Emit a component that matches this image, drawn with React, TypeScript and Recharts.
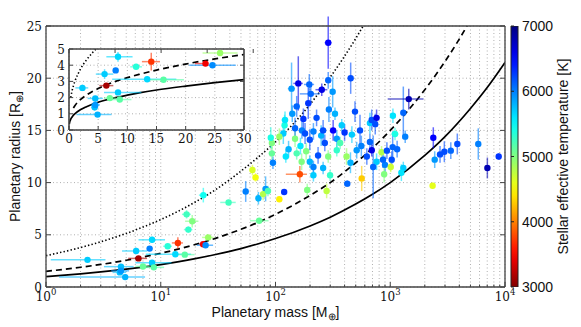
import React from "react";
import {
  ComposedChart,
  BarChart,
  Bar,
  Line,
  Scatter,
  ErrorBar,
  XAxis,
  YAxis,
  CartesianGrid,
} from "recharts";

const SERIF = "'DejaVu Serif', serif";
const SANS = "'Liberation Sans', Arial, sans-serif";
const FRAME = "#444";

// model curves (mass in M_earth, radius in R_earth)
const curveMass = [1, 2, 3, 5, 7, 10, 20, 30, 50, 70, 100, 200, 300, 500, 700, 1000, 2000, 3000, 5000, 7000, 10000];
const solidR = [1.0, 1.26, 1.44, 1.71, 1.91, 2.15, 2.71, 3.11, 3.68, 4.12, 4.64, 5.85, 6.69, 7.94, 8.88, 10.0, 12.6, 14.4, 17.1, 19.1, 21.5];
const dashedR = [1.5, 1.89, 2.16, 2.56, 2.87, 3.23, 4.07, 4.66, 5.53, 6.17, 6.96, 8.77, 10.0, 11.9, 13.3, 15.0, 18.9, 21.6, 25.6, 28.7, 32.3];
const dottedR = [3.0, 3.78, 4.33, 5.13, 5.74, 6.46, 8.14, 9.32, 11.1, 12.4, 13.9, 17.5, 20.1, 23.8, 26.6, 30.0, 37.8, 43.3, 51.3, 57.4, 64.6];

// same curves in the zoomed inset
const insetMass = [0.05, 0.1, 0.2, 0.3, 0.5, 0.75, 1, 1.5, 2, 3, 4, 5, 6, 8, 10, 12, 15, 20, 25, 30];
const insetSolid = [0.37, 0.46, 0.58, 0.67, 0.79, 0.91, 1.0, 1.14, 1.26, 1.44, 1.59, 1.71, 1.82, 2.0, 2.15, 2.29, 2.47, 2.71, 2.92, 3.11];
const insetDashed = [null, null, null, null, null, 1.36, 1.5, 1.72, 1.89, 2.16, 2.38, 2.56, 2.73, 3.0, 3.23, 3.43, 3.7, 4.07, 4.39, 4.66];
const insetDotted = [null, null, null, 2.0, 2.38, 2.72, 3.0, 3.43, 3.78, 4.33, 4.76, 5.13, 5.45, 6.0, null, null, null, null, null, null];

// planets: [mass, radius, mass err low, mass err high, radius err, Teff]
const smallPlanets = [
  [2.3, 2.6, 1.2, 1.0, 0.2, 5700],
  [4.9, 0.95, 3.6, 2.4, 0.1, 5800],
  [4.5, 1.95, 1.3, 1.3, 0.15, 5750],
  [4.5, 1.55, 0.8, 0.8, 0.25, 5900],
  [4.4, 1.4, 0.6, 0.6, 0.2, 5750],
  [6.1, 3.45, 1.5, 1.5, 0.3, 5700],
  [6.4, 2.74, 1.2, 1.2, 0.1, 3150],
  [8.0, 3.68, 0.4, 0.4, 0.1, 6000],
  [8.4, 4.52, 2.0, 2.5, 0.3, 5650],
  [7.0, 1.97, 1.0, 1.0, 0.1, 5100],
  [8.4, 2.32, 2.4, 4.0, 0.15, 5700],
  [8.7, 1.88, 1.5, 2.0, 0.15, 5150],
  [11.5, 3.9, 1.0, 1.0, 0.1, 5350],
  [13.4, 3.13, 6.0, 5.0, 0.15, 5650],
  [14.1, 4.22, 1.6, 1.5, 0.55, 3700],
  [16.2, 3.1, 2.5, 3.5, 0.15, 5150],
  [23.4, 4.1, 1.8, 0.5, 0.1, 3450],
  [24.6, 4.0, 4.0, 4.0, 0.1, 5950],
  [25.9, 4.75, 3.0, 3.0, 0.1, 4900],
];

const neptunes = [
  [16.8, 6.96, 1.5, 1.5, 0.4, 5250],
  [18.8, 6.3, 2.5, 2.5, 0.6, 5000],
  [17.4, 5.5, 1.5, 1.5, 0.3, 5300],
  [23.5, 8.8, 2.0, 2.0, 0.7, 5450],
  [39, 8.1, 6, 6, 0.25, 5250],
  [72, 6.35, 12, 15, 0.2, 5100],
  [55, 9.15, 3, 3, 1.0, 6000],
  [71, 8.5, 3, 3, 0.6, 5800],
  [82, 9.4, 4, 4, 1.2, 5900],
  [78, 8.9, 4, 4, 0.6, 4800],
  [86, 9.2, 4, 4, 0.5, 5200],
  [63, 11.2, 3, 3, 0.5, 4650],
  [67, 10.5, 3, 3, 0.4, 4550],
  [108, 8.4, 4, 4, 0.2, 4450],
  [119, 9.1, 3, 3, 0.2, 6300],
  [95, 11.9, 4, 4, 0.6, 6000],
  [93, 12.8, 4, 4, 0.6, 5100],
  [91, 14.3, 4, 4, 1.0, 5400],
  [93, 13.8, 4, 4, 0.6, 5000],
];

const saturns = [
  [163, 10.8, 40, 25, 0.8, 3800],
  [123, 12.5, 5, 5, 0.6, 5600],
  [564, 10.4, 20, 20, 1.2, 4300],
  [422, 9.9, 15, 15, 0.3, 6100],
  [279, 9.2, 15, 15, 0.7, 4750],
  [710, 11.5, 20, 20, 3.0, 6100],
  [214, 10.7, 8, 8, 0.6, 5700],
  [189, 9.3, 8, 8, 0.6, 5000],
  [299, 10.7, 10, 10, 0.5, 5300],
  [148, 14.2, 6, 6, 0.8, 5000],
  [199, 14.1, 8, 8, 1.0, 6200],
  [269, 13.8, 10, 10, 0.8, 6200],
  [342, 14.2, 10, 10, 0.8, 5900],
  [665, 13.9, 20, 20, 0.8, 6100],
  [690, 13.1, 20, 20, 0.6, 6600],
  [840, 12.9, 25, 25, 0.6, 4800],
  [153, 12.8, 6, 6, 0.6, 5200],
  [169, 12.0, 6, 6, 0.8, 5000],
  [199, 12.0, 8, 8, 0.6, 5800],
  [214, 11.5, 8, 8, 0.6, 6000],
  [260, 11.4, 10, 10, 0.6, 5800],
  [235, 12.6, 8, 8, 0.8, 6200],
  [288, 12.5, 10, 10, 0.6, 5000],
  [342, 13.1, 10, 10, 0.6, 5300],
  [366, 13.8, 10, 10, 0.6, 5200],
  [416, 12.5, 15, 15, 0.8, 4900],
  [510, 13.1, 15, 15, 0.8, 5900],
  [625, 12.5, 20, 20, 0.8, 6200],
  [760, 12.0, 25, 25, 0.8, 5700],
  [108, 14.4, 5, 5, 0.8, 4900],
  [130, 13.2, 5, 5, 0.8, 5800],
  [165, 13.5, 6, 6, 0.8, 5600],
  [185, 13.0, 8, 8, 0.8, 5000],
  [560, 13.5, 20, 20, 1.0, 6000],
  [450, 11.9, 15, 15, 1.0, 5800],
  [865, 12.2, 25, 25, 0.8, 6100],
  [900, 11.7, 25, 25, 0.8, 6000],
  [885, 10.8, 25, 25, 0.8, 5000],
];

const jupiters = [
  [288, 23.4, 20, 20, 2.5, 6500],
  [452, 20.0, 15, 15, 1.5, 6200],
  [158, 19.5, 15, 15, 2.6, 6600],
  [138, 19.0, 10, 10, 2.5, 5900],
  [197, 19.4, 20, 20, 1.0, 6100],
  [253, 18.9, 30, 30, 0.6, 6600],
  [288, 19.8, 15, 15, 0.8, 6100],
  [315, 18.7, 15, 15, 1.5, 5900],
  [203, 18.5, 40, 40, 1.0, 6100],
  [193, 17.6, 10, 10, 1.5, 6300],
  [153, 17.3, 10, 10, 1.0, 6100],
  [292, 17.0, 10, 10, 1.2, 6000],
  [493, 16.8, 20, 20, 1.0, 6200],
  [140, 16.6, 8, 8, 0.8, 5900],
  [121, 16.0, 8, 8, 0.8, 5600],
  [175, 16.1, 8, 8, 1.0, 6300],
  [689, 16.0, 20, 20, 1.0, 6200],
  [760, 16.2, 20, 20, 0.8, 6600],
  [228, 16.2, 10, 10, 0.8, 6200],
  [330, 16.6, 10, 10, 0.6, 5800],
  [378, 15.5, 15, 15, 0.6, 5700],
  [318, 15.0, 10, 10, 1.0, 6500],
  [260, 15.0, 10, 10, 1.0, 6200],
  [214, 14.9, 10, 10, 0.8, 6000],
  [181, 14.7, 8, 8, 1.0, 6200],
  [148, 15.2, 6, 6, 1.0, 6100],
  [117, 14.7, 5, 5, 1.0, 5700],
  [463, 14.6, 15, 15, 0.8, 5700],
  [545, 15.0, 20, 20, 1.5, 6200],
  [665, 15.7, 20, 20, 1.0, 5700],
  [740, 15.6, 25, 25, 1.0, 6200],
  [400, 14.8, 15, 15, 0.8, 6300],
  [120, 15.5, 5, 5, 1.0, 5400],
  [170, 15.0, 6, 6, 0.8, 6000],
  [250, 14.5, 8, 8, 1.0, 5800],
];

const heavyPlanets = [
  [1450, 18.0, 500, 500, 1.0, 6800],
  [1300, 16.7, 50, 50, 2.5, 6100],
  [1055, 16.4, 30, 30, 0.7, 5600],
  [1100, 14.65, 80, 80, 0.6, 5400],
  [1350, 14.4, 40, 40, 0.6, 6000],
  [1050, 13.4, 30, 30, 1.5, 6100],
  [1148, 13.2, 30, 30, 0.8, 6100],
  [935, 13.06, 30, 30, 0.8, 6200],
  [1030, 12.2, 30, 30, 0.8, 6200],
  [1010, 11.5, 30, 30, 0.5, 4700],
  [1300, 11.4, 40, 40, 0.6, 5700],
  [1250, 10.95, 40, 40, 0.8, 5600],
  [2372, 14.3, 80, 80, 1.0, 6500],
  [2440, 12.2, 80, 80, 0.8, 5900],
  [2715, 12.7, 80, 80, 0.8, 6200],
  [2960, 12.96, 80, 80, 1.0, 6200],
  [3370, 13.06, 100, 100, 0.8, 6100],
  [3840, 13.7, 120, 120, 1.0, 6200],
  [5850, 13.7, 150, 150, 1.5, 6000],
  [7020, 11.4, 200, 200, 1.0, 6800],
  [8810, 12.5, 200, 200, 0.3, 6300],
  [2340, 9.7, 50, 50, 0.3, 4600],
];

const massTicks = [1, 2, 3, 4, 5, 6, 7, 8, 9, 10, 20, 30, 40, 50, 60, 70, 80, 90, 100, 200, 300, 400, 500, 600, 700, 800, 900, 1000, 2000, 3000, 4000, 5000, 6000, 7000, 8000, 9000, 10000];
const radiusTicks = [0, 5, 10, 15, 20, 25];
const insetMassTicks = [0, 5, 10, 15, 20, 25, 30];
const insetRadiusTicks = [0, 1, 2, 3, 4, 5];
const teffTicks = [3000, 4000, 5000, 6000, 7000];

// jet colormap, 7000 K -> dark blue, 3000 K -> dark red
function jet(t: number) {
  const c = (v: number) => Math.round(255 * Math.max(0, Math.min(1, v)));
  const r = c(Math.min(4 * t - 1.5, -4 * t + 4.5));
  const g = c(Math.min(4 * t - 0.5, -4 * t + 3.5));
  const b = c(Math.min(4 * t + 0.5, -4 * t + 2.5));
  return `rgb(${r},${g},${b})`;
}
const teffColor = (T: number) => jet((7000 - T) / 4000);

const curveRows = curveMass.map((m, i) => ({ m, solid: solidR[i], dashed: dashedR[i], dotted: dottedR[i] }));
const insetRows = insetMass.map((m, i) => ({ m, solid: insetSolid[i], dashed: insetDashed[i], dotted: insetDotted[i] }));

const allPlanets = [...smallPlanets, ...neptunes, ...saturns, ...jupiters, ...heavyPlanets].map(
  ([m, r, lo, hi, dr, teff]) => ({ m, r, mErr: [lo, hi], rErr: dr, teff })
);

function groupByTeff(list: typeof allPlanets) {
  const groups: { teff: number; pts: typeof allPlanets }[] = [];
  list.forEach((p) => {
    let g = groups.find((x) => x.teff === p.teff);
    if (!g) {
      g = { teff: p.teff, pts: [] };
      groups.push(g);
    }
    g.pts.push(p);
  });
  return groups;
}

const mainGroups = groupByTeff(allPlanets);
const insetGroups = groupByTeff(allPlanets.filter((p) => p.m <= 30 && p.r <= 5));

const dot = (color: string) => (p: any) => <circle cx={p.cx} cy={p.cy} r={3.2} fill={color} />;

const MassTick = (props: any) => {
  const { x, y, payload } = props;
  const e = Math.log10(payload.value);
  const major = Math.abs(e - Math.round(e)) < 1e-9;
  return (
    <g>
      <line x1={x} x2={x} y1={y} y2={y - (major ? 5 : 2.5)} stroke={FRAME} />
      {major && (
        <text x={x} y={y + 14} textAnchor="middle" fontFamily={SERIF} fontSize={12} fill="#111">
          10
          <tspan dy={-6} fontSize={8.5}>
            {Math.round(e)}
          </tspan>
        </text>
      )}
    </g>
  );
};

const TopMassTick = (props: any) => {
  const { x, y, payload } = props;
  const e = Math.log10(payload.value);
  const major = Math.abs(e - Math.round(e)) < 1e-9;
  return <line x1={x} x2={x} y1={y} y2={y + (major ? 5 : 2.5)} stroke={FRAME} />;
};

const LeftTick = (props: any) => {
  const { x, y, payload, len = 5 } = props;
  return (
    <g>
      <line x1={x} x2={x + len} y1={y} y2={y} stroke={FRAME} />
      <text x={x - 4} y={y + 4.5} textAnchor="end" fontFamily={SERIF} fontSize={12} fill="#111">
        {payload.value}
      </text>
    </g>
  );
};

const RightTick = (props: any) => {
  const { x, y, len = 5 } = props;
  return <line x1={x} x2={x - len} y1={y} y2={y} stroke={FRAME} />;
};

const BottomTick = (props: any) => {
  const { x, y, payload } = props;
  return (
    <g>
      <line x1={x} x2={x} y1={y} y2={y - 4} stroke={FRAME} />
      <text x={x} y={y + 13} textAnchor="middle" fontFamily={SERIF} fontSize={12} fill="#111">
        {payload.value}
      </text>
    </g>
  );
};

const TopTick = (props: any) => {
  const { x, y } = props;
  return <line x1={x} x2={x} y1={y} y2={y + 4} stroke={FRAME} />;
};

const ColorTick = (props: any) => {
  const { x, y, payload } = props;
  return (
    <g>
      <line x1={x - 7} x2={x - 4} y1={y} y2={y} stroke="#222" />
      <text x={x + 4} y={y + 5} fontFamily={SANS} fontSize={14} fill="#111">
        {payload.value}
      </text>
    </g>
  );
};

const xTitle = (props: any) => {
  const vb = props.viewBox;
  return (
    <text x={vb.x + vb.width / 2} y={vb.y + 30} textAnchor="middle" fontFamily={SANS} fontSize={14} fill="#111">
      Planetary mass [M
      <tspan dy={3} fontSize={10}>⊕</tspan>
      <tspan dy={-3}>]</tspan>
    </text>
  );
};

const yTitle = (props: any) => {
  const vb = props.viewBox;
  const cx = 20;
  const cy = vb.y + vb.height / 2;
  return (
    <text x={cx} y={cy} transform={`rotate(-90, ${cx}, ${cy})`} textAnchor="middle" fontFamily={SANS} fontSize={14} fill="#111">
      Planetary radius [R
      <tspan dy={3} fontSize={10}>⊕</tspan>
      <tspan dy={-3}>]</tspan>
    </text>
  );
};

const cbTitle = (props: any) => {
  const vb = props.viewBox;
  const cx = 568;
  const cy = vb.y + vb.height / 2;
  return (
    <text x={cx} y={cy} transform={`rotate(-90, ${cx}, ${cy})`} textAnchor="middle" fontFamily={SANS} fontSize={14} fill="#111">
      Stellar effective temperature [K]
    </text>
  );
};

const gradStops = Array.from({ length: 21 }, (_, i) => i / 20);

function renderPoints(groups: ReturnType<typeof groupByTeff>, prefix: string) {
  return groups.map((g) => {
    const color = teffColor(g.teff);
    return (
      <Scatter key={`${prefix}-${g.teff}`} data={g.pts} fill={color} shape={dot(color)} isAnimationActive={false}>
        <ErrorBar dataKey="mErr" direction="x" width={0} stroke={color} strokeWidth={1.5} strokeOpacity={0.6} />
        <ErrorBar dataKey="rErr" direction="y" width={0} stroke={color} strokeWidth={1.5} strokeOpacity={0.6} />
      </Scatter>
    );
  });
}

export default function App() {
  return (
    <div style={{ position: "absolute", left: 0, top: 0, width: 581, height: 327, background: "#fff", fontFamily: SANS }}>
      <ComposedChart width={581} height={327} data={curveRows} margin={{ top: 25, right: 75, bottom: 0, left: 0 }}>
        <CartesianGrid stroke="#b0b0b0" strokeDasharray="1 2.5" />
        <XAxis
          dataKey="m"
          type="number"
          scale="log"
          domain={[1, 10000]}
          allowDataOverflow
          ticks={massTicks}
          interval={0}
          tick={<MassTick />}
          tickLine={false}
          tickSize={0}
          tickMargin={0}
          height={40}
          axisLine={{ stroke: FRAME, strokeWidth: 1.3 }}
          label={{ content: xTitle }}
        />
        <XAxis
          xAxisId="top"
          orientation="top"
          type="number"
          scale="log"
          domain={[1, 10000]}
          allowDataOverflow
          ticks={massTicks}
          interval={0}
          tick={<TopMassTick />}
          tickLine={false}
          tickSize={0}
          tickMargin={0}
          height={1}
          axisLine={{ stroke: FRAME, strokeWidth: 1.3 }}
        />
        <YAxis
          dataKey="r"
          type="number"
          domain={[0, 25]}
          allowDataOverflow
          ticks={radiusTicks}
          interval={0}
          tick={<LeftTick />}
          tickLine={false}
          tickSize={0}
          tickMargin={0}
          width={46}
          axisLine={{ stroke: FRAME, strokeWidth: 1.3 }}
          label={{ content: yTitle }}
        />
        <YAxis
          yAxisId="right"
          orientation="right"
          type="number"
          domain={[0, 25]}
          allowDataOverflow
          ticks={radiusTicks}
          interval={0}
          tick={<RightTick />}
          tickLine={false}
          tickSize={0}
          tickMargin={0}
          width={1}
          axisLine={{ stroke: FRAME, strokeWidth: 1.3 }}
        />
        <Line dataKey="solid" type="monotone" stroke="#000" strokeWidth={1.7} dot={false} isAnimationActive={false} />
        <Line dataKey="dashed" type="monotone" stroke="#000" strokeWidth={1.7} strokeDasharray="6 4" dot={false} isAnimationActive={false} />
        <Line dataKey="dotted" type="monotone" stroke="#000" strokeWidth={1.6} strokeDasharray="1.4 2.2" dot={false} isAnimationActive={false} />
        {renderPoints(mainGroups, "main")}
      </ComposedChart>

      <div style={{ position: "absolute", left: 40, top: 40, width: 222, height: 110 }}>
        <ComposedChart width={222} height={110} data={insetRows} margin={{ top: 8, right: 17, bottom: 0, left: 0 }}>
          <CartesianGrid stroke="#b0b0b0" strokeDasharray="1 2.5" fill="#fff" fillOpacity={1} />
          <XAxis
            dataKey="m"
            type="number"
            domain={[0, 30]}
            allowDataOverflow
            ticks={insetMassTicks}
            interval={0}
            tick={<BottomTick />}
            tickLine={false}
            tickSize={0}
            tickMargin={0}
            height={20}
            axisLine={{ stroke: FRAME, strokeWidth: 1.6 }}
          />
          <XAxis
            xAxisId="top"
            orientation="top"
            type="number"
            domain={[0, 30]}
            allowDataOverflow
            ticks={insetMassTicks}
            interval={0}
            tick={<TopTick />}
            tickLine={false}
            tickSize={0}
            tickMargin={0}
            height={1}
            axisLine={{ stroke: FRAME, strokeWidth: 1.6 }}
          />
          <YAxis
            dataKey="r"
            type="number"
            domain={[0, 5]}
            allowDataOverflow
            ticks={insetRadiusTicks}
            interval={0}
            tick={<LeftTick len={4} />}
            tickLine={false}
            tickSize={0}
            tickMargin={0}
            width={29}
            axisLine={{ stroke: FRAME, strokeWidth: 1.6 }}
          />
          <YAxis
            yAxisId="right"
            orientation="right"
            type="number"
            domain={[0, 5]}
            allowDataOverflow
            ticks={insetRadiusTicks}
            interval={0}
            tick={<RightTick len={4} />}
            tickLine={false}
            tickSize={0}
            tickMargin={0}
            width={1}
            axisLine={{ stroke: FRAME, strokeWidth: 1.6 }}
          />
          <Line dataKey="solid" type="monotone" stroke="#000" strokeWidth={1.7} dot={false} isAnimationActive={false} />
          <Line dataKey="dashed" type="monotone" stroke="#000" strokeWidth={1.7} strokeDasharray="6 4" dot={false} isAnimationActive={false} />
          <Line dataKey="dotted" type="monotone" stroke="#000" strokeWidth={1.6} strokeDasharray="1.4 2.2" dot={false} isAnimationActive={false} />
          {renderPoints(insetGroups, "inset")}
        </ComposedChart>
      </div>

      <div style={{ position: "absolute", left: 0, top: 0, width: 581, height: 327 }}>
        <BarChart width={581} height={327} data={[{ name: "teff", top: 7000 }]} margin={{ top: 26, right: 0, bottom: 40, left: 511 }} barCategoryGap={0}>
          <defs>
            <linearGradient id="jetGrad" x1="0" y1="0" x2="0" y2="1">
              {gradStops.map((s) => (
                <stop key={s} offset={s} stopColor={jet(s)} />
              ))}
            </linearGradient>
          </defs>
          <XAxis dataKey="name" hide />
          <YAxis
            orientation="right"
            type="number"
            domain={[3000, 7000]}
            allowDataOverflow
            ticks={teffTicks}
            interval={0}
            tick={<ColorTick />}
            tickLine={false}
            tickSize={0}
            tickMargin={0}
            width={63}
            axisLine={false}
            label={{ content: cbTitle }}
          />
          <Bar dataKey="top" fill="url(#jetGrad)" stroke="#222" strokeWidth={1} isAnimationActive={false} />
        </BarChart>
      </div>
    </div>
  );
}
